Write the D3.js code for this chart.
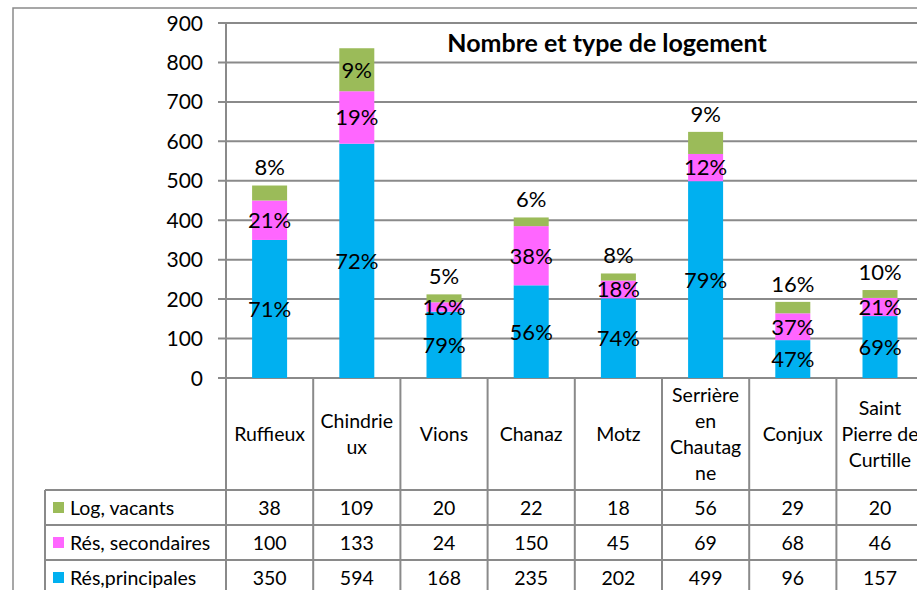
<!DOCTYPE html>
<html>
<head>
<meta charset="utf-8">
<script src="https://cdn.jsdelivr.net/npm/d3@7"></script>
<style>
  body { margin: 0; background: #fff; }
  svg { display: block; font-family: Lato, "Open Sans", sans-serif; }
</style>
</head>
<body>
<svg id="chart" width="917" height="590"></svg>
<script>
// communes
var communes = ["Ruffieux", "Chindrieux", "Vions", "Chanaz", "Motz", "Serrière en Chautagne", "Conjux", "Saint Pierre de Curtille"];
// header text as it wraps in the data table
var communeLines = [["Ruffieux"], ["Chindrie", "ux"], ["Vions"], ["Chanaz"], ["Motz"], ["Serrière", "en", "Chautag", "ne"], ["Conjux"], ["Saint", "Pierre de", "Curtille"]];

var seriesNames = ["Log, vacants", "Rés, secondaires", "Rés,principales"];
var principales = [350, 594, 168, 235, 202, 499, 96, 157];
var secondaires = [100, 133, 24, 150, 45, 69, 68, 46];
var vacants = [38, 109, 20, 22, 18, 56, 29, 20];

// percentage labels shown on the bars
var pctPrincipales = [71, 72, 79, 56, 74, 79, 47, 69];
var pctSecondaires = [21, 19, 16, 38, 18, 12, 37, 21];
var pctVacants = [8, 9, 5, 6, 8, 9, 16, 10];

var yTicks = [0, 100, 200, 300, 400, 500, 600, 700, 800, 900];

var colors = {principales: "#00B0F0", secondaires: "#FF66FF", vacants: "#9BBB59"};
var gridColor = "#8a8a8a";

var svg = d3.select("#chart");
svg.append("rect").attr("width", 917).attr("height", 590).attr("fill", "#fff");

// outer chart border
svg.append("path")
    .attr("d", "M13,600 L13,8 L930,8")
    .attr("fill", "none")
    .attr("stroke", gridColor)
    .attr("stroke-width", 1.5);

var y = d3.scaleLinear().domain([0, 900]).range([378, 23]);
var x = d3.scaleBand().domain(communes).range([226, 226 + 8 * 87.2]);
var barW = 35;

// gridlines + ticks
svg.append("g").selectAll("line")
    .data(yTicks)
    .join("line")
    .attr("x1", 218).attr("x2", 917)
    .attr("y1", d => y(d)).attr("y2", d => y(d))
    .attr("stroke", gridColor)
    .attr("stroke-width", 2);

svg.append("g").selectAll("text")
    .data(yTicks)
    .join("text")
    .attr("x", 203)
    .attr("y", d => y(d))
    .attr("dy", "0.36em")
    .attr("text-anchor", "end")
    .attr("font-size", 21)
    .attr("fill", "#000")
    .text(d => d);

// title
svg.append("text")
    .attr("x", 607).attr("y", 52)
    .attr("text-anchor", "middle")
    .attr("font-size", 25)
    .attr("font-weight", "bold")
    .text("Nombre et type de logement");

// stacked data
var rows = communes.map((c, i) => ({
    commune: c,
    principales: principales[i],
    secondaires: secondaires[i],
    vacants: vacants[i],
    pct: {principales: pctPrincipales[i], secondaires: pctSecondaires[i], vacants: pctVacants[i]}
}));
var keys = ["principales", "secondaires", "vacants"];
var stacked = d3.stack().keys(keys)(rows);

var layers = svg.append("g").selectAll("g")
    .data(stacked)
    .join("g")
    .attr("fill", d => colors[d.key]);

layers.selectAll("rect")
    .data(d => d)
    .join("rect")
    .attr("x", d => x(d.data.commune) + x.bandwidth() / 2 - barW / 2)
    .attr("width", barW)
    .attr("y", d => y(d[1]))
    .attr("height", d => y(d[0]) - y(d[1]));

// percentage labels
var labels = svg.append("g").attr("font-size", 22).attr("text-anchor", "middle");
stacked.forEach(function (layer) {
    layer.forEach(function (d) {
        var h = y(d[0]) - y(d[1]);
        var cy = (y(d[0]) + y(d[1])) / 2;
        if (layer.key === "vacants" && h < 30) cy = y(d[1]) - 18;
        labels.append("text")
            .attr("x", x(d.data.commune) + x.bandwidth() / 2)
            .attr("y", cy)
            .attr("dy", "0.36em")
            .text(d.data.pct[layer.key] + "%");
    });
});

// data table
var tableTop = 378, headerBottom = 490, rowH = 35;
var tableLines = svg.append("g").attr("stroke", gridColor).attr("stroke-width", 2);

// y axis continuing into the table
tableLines.append("line").attr("x1", 226).attr("x2", 226).attr("y1", 23).attr("y2", 600);
// category separators
tableLines.selectAll("line.sep")
    .data(communes)
    .join("line")
    .attr("class", "sep")
    .attr("x1", d => x(d) + x.bandwidth()).attr("x2", d => x(d) + x.bandwidth())
    .attr("y1", tableTop).attr("y2", 600);
// row lines
tableLines.selectAll("line.row")
    .data(d3.range(3))
    .join("line")
    .attr("class", "row")
    .attr("x1", 45).attr("x2", 917)
    .attr("y1", i => headerBottom + i * rowH).attr("y2", i => headerBottom + i * rowH);
tableLines.append("line").attr("x1", 45).attr("x2", 45).attr("y1", headerBottom).attr("y2", 600);

// header labels
var header = svg.append("g").attr("font-size", 19.5).attr("text-anchor", "middle");
communeLines.forEach(function (lines, i) {
    var cx = x(communes[i]) + x.bandwidth() / 2;
    var lh = 25.7;
    var start = (tableTop + headerBottom) / 2 - (lines.length - 1) * lh / 2;
    lines.forEach(function (t, j) {
        header.append("text")
            .attr("x", cx).attr("y", start + j * lh)
            .attr("dy", "0.36em")
            .text(t);
    });
});

// value rows: vacants, secondaires, principales
var tableSeries = [
    {name: seriesNames[0], key: "vacants", values: vacants},
    {name: seriesNames[1], key: "secondaires", values: secondaires},
    {name: seriesNames[2], key: "principales", values: principales}
];
var body = svg.append("g").attr("font-size", 19.5);
tableSeries.forEach(function (s, r) {
    var cy = headerBottom + r * rowH + rowH / 2;
    body.append("rect")
        .attr("x", 53).attr("y", cy - 5.5)
        .attr("width", 11).attr("height", 11)
        .attr("fill", colors[s.key]);
    body.append("text")
        .attr("x", 70).attr("y", cy).attr("dy", "0.36em")
        .text(s.name);
    s.values.forEach(function (v, i) {
        body.append("text")
            .attr("x", x(communes[i]) + x.bandwidth() / 2)
            .attr("y", cy).attr("dy", "0.36em")
            .attr("text-anchor", "middle")
            .text(v);
    });
});
</script>
</body>
</html>
